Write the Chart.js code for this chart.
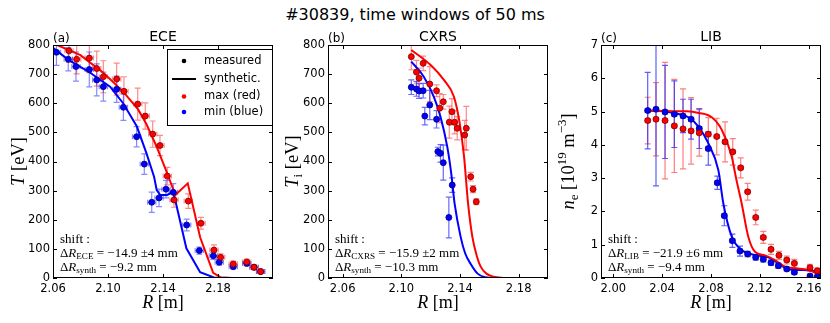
<!DOCTYPE html>
<html>
<head>
<meta charset="utf-8">
<script src="https://cdn.jsdelivr.net/npm/chart.js@4.4.0/dist/chart.umd.min.js"></script>
<style>
    body { margin: 0; background: #fff; }
    #wrap { position: relative; width: 830px; height: 323px; overflow: hidden; }
    #wrap canvas { position: absolute; top: 0; }
    #title { position: absolute; top: 5px; left: 0; width: 830px; text-align: center;
             font: 16px 'DejaVu Sans', sans-serif; color: #000; }
</style>
</head>
<body>
<div id="wrap">
    <div id="title">#30839, time windows of 50 ms</div>
    <canvas id="panelA" width="280" height="323" style="left:0px;width:280px;height:323px"></canvas>
    <canvas id="panelB" width="275" height="323" style="left:280px;width:275px;height:323px"></canvas>
    <canvas id="panelC" width="275" height="323" style="left:555px;width:275px;height:323px"></canvas>
</div>
<script>
// ---- tick labels ----
const eceTicksX = [2.06, 2.10, 2.14, 2.18];
const cxrsTicksX = [2.06, 2.10, 2.14, 2.18];
const libTicksX = [2.00, 2.04, 2.08, 2.12, 2.16];
const tempTicksY = [0, 100, 200, 300, 400, 500, 600, 700, 800];
const densTicksY = [0, 1, 2, 3, 4, 5, 6, 7];

// ---- ECE (a) ----
const eceRedR = [2.0716, 2.0772, 2.0864, 2.0918, 2.0966, 2.1063, 2.1116, 2.1216, 2.1271, 2.1325, 2.1378, 2.1431, 2.148, 2.1584, 2.1676, 2.1771, 2.1819, 2.1911, 2.2009, 2.2062, 2.2110];
const eceRedT = [780, 751, 755, 719, 691, 683, 641, 597, 556, 494, 455, 350, 268, 264, 188, 96, 71, 48, 55, 37, 22];
const eceRedErr = [40, 50, 50, 60, 55, 55, 50, 55, 45, 45, 35, 30, 25, 25, 20, 18, 12, 10, 10, 8, 6];
const eceBlueR = [2.0625, 2.0711, 2.0767, 2.0864, 2.0918, 2.0966, 2.1063, 2.1112, 2.1208, 2.1264, 2.1318, 2.1371, 2.1422, 2.1475, 2.1572, 2.1664, 2.1766, 2.1809, 2.1911, 2.2009, 2.2062, 2.2110];
const eceBlueT = [775, 751, 726, 716, 680, 657, 648, 586, 485, 391, 260, 275, 305, 294, 182, 94, 76, 54, 39, 50, 37, 22];
const eceBlueErr = [45, 40, 50, 60, 55, 50, 45, 45, 35, 35, 35, 30, 30, 30, 20, 12, 12, 10, 8, 8, 6, 6];
const eceSynRedR = [2.063, 2.08, 2.097, 2.111, 2.122, 2.128, 2.135, 2.143, 2.149, 2.158, 2.167, 2.1765, 2.182, 2.19, 2.22];
const eceSynRedT = [800, 765, 703, 640, 578, 528, 455, 360, 285, 325, 140, 18, 2, 0, 0];
const eceSynBlueR = [2.06, 2.071, 2.086, 2.1015, 2.111, 2.121, 2.128, 2.1335, 2.1354, 2.138, 2.143, 2.1475, 2.157, 2.167, 2.177, 2.19, 2.22];
const eceSynBlueT = [790, 750, 708, 657, 600, 520, 428, 348, 302, 285, 285, 296, 102, 20, 2, 0, 0];

// ---- CXRS (b) ----
const cxrsRedR = [2.1068, 2.1103, 2.1121, 2.1149, 2.1194, 2.124, 2.1262, 2.1286, 2.1327, 2.1345, 2.1363, 2.1381, 2.1432, 2.1443, 2.1473, 2.1489, 2.1511];
const cxrsRedT = [760, 707, 686, 737, 666, 643, 583, 605, 535, 571, 535, 514, 491, 514, 348, 305, 262];
const cxrsRedErr = [45, 40, 35, 25, 60, 20, 50, 25, 55, 45, 40, 40, 50, 75, 15, 12, 10];
const cxrsBlueR = [2.1068, 2.1103, 2.1121, 2.1149, 2.116, 2.1194, 2.124, 2.1249, 2.1267, 2.1286, 2.1324, 2.1347];
const cxrsBlueT = [655, 649, 642, 643, 556, 594, 545, 434, 428, 396, 208, 319];
const cxrsBlueErr = [25, 25, 25, 25, 30, 50, 30, 15, 30, 60, 70, 25];
const cxrsSynRedR = [2.1068, 2.12, 2.129, 2.1358, 2.1395, 2.1427, 2.1455, 2.1484, 2.1515, 2.1541, 2.158, 2.163, 2.17, 2.20];
const cxrsSynRedT = [783, 731, 680, 623, 540, 420, 256, 142, 75, 39, 15, 4, 0, 0];
const cxrsSynBlueR = [2.1068, 2.1153, 2.1221, 2.1267, 2.1313, 2.134, 2.1363, 2.1404, 2.1435, 2.1473, 2.152, 2.157, 2.165, 2.20];
const cxrsSynBlueT = [743, 691, 623, 554, 451, 360, 256, 142, 85, 48, 15, 3, 0, 0];

// ---- LIB (c) ----
const libRedR = [2.0282, 2.035, 2.0424, 2.05, 2.0571, 2.0637, 2.0704, 2.0778, 2.0847, 2.0915, 2.0978, 2.1043, 2.11, 2.1166, 2.1228, 2.1291, 2.1356, 2.142, 2.1482, 2.161, 2.167];
const libRedN = [4.73, 4.77, 4.73, 4.57, 4.48, 4.42, 4.36, 4.32, 4.25, 4.09, 3.79, 3.31, 2.59, 1.82, 1.22, 0.86, 0.68, 0.54, 0.44, 0.31, 0.22];
const libRedErr = [0.7, 1.1, 1.75, 1.4, 1.2, 1.0, 0.7, 0.5, 0.55, 0.6, 0.4, 0.3, 0.25, 0.22, 0.18, 0.15, 0.12, 0.12, 0.12, 0.1, 0.08];
const libBlueR = [2.0282, 2.035, 2.0424, 2.05, 2.0571, 2.0637, 2.0704, 2.0778, 2.0852, 2.0909, 2.0975, 2.1037, 2.11, 2.1166, 2.1228, 2.1291, 2.1351, 2.142, 2.1482, 2.161, 2.167];
const libBlueN = [5.03, 5.07, 4.99, 4.92, 4.87, 4.77, 4.49, 3.89, 2.86, 1.87, 1.12, 0.81, 0.72, 0.62, 0.56, 0.46, 0.37, 0.27, 0.17, 0.06, 0.04];
const libBlueErr = [1.15, 2.3, 1.4, 1.0, 0.5, 0.6, 0.6, 0.5, 0.2, 0.3, 0.2, 0.15, 0.08, 0.08, 0.08, 0.08, 0.08, 0.06, 0.06, 0.05, 0.05];
const libSynRedR = [2.028, 2.06, 2.07, 2.0806, 2.0888, 2.097, 2.1005, 2.1051, 2.1105, 2.116, 2.1242, 2.1324, 2.1406, 2.1488, 2.1597, 2.17];
const libSynRedN = [5.02, 5.01, 4.96, 4.83, 4.45, 3.64, 3.0, 2.24, 1.24, 0.79, 0.68, 0.54, 0.34, 0.29, 0.24, 0.09];
const libSynBlueR = [2.028, 2.04, 2.0506, 2.0615, 2.0697, 2.0778, 2.086, 2.0901, 2.097, 2.1051, 2.116, 2.1269, 2.1351, 2.1433, 2.1542, 2.1651, 2.17];
const libSynBlueN = [5.03, 5.02, 4.95, 4.83, 4.55, 4.05, 3.24, 2.24, 1.24, 0.84, 0.69, 0.62, 0.44, 0.26, 0.24, 0.2, 0.08];

const RED = '#ff0000';
const BLUE = '#0000ff';
const SANS = "'DejaVu Sans', sans-serif";
const SERIF = "'Liberation Serif', 'DejaVu Serif', serif";

function toPoints(xs, ys) {
    return xs.map((v, i) => ({ x: v, y: ys[i] }));
}

function measuredSet(xs, ys, errs, color, edge, errColor, errX) {
    return {
        data: toPoints(xs, ys),
        showLine: false,
        pointRadius: 3,
        pointBackgroundColor: color,
        pointBorderColor: edge,
        pointBorderWidth: 0.8,
        errY: errs,
        errX: errX,
        errColor: errColor,
        order: 0
    };
}

function syntheticSet(xs, ys, color, smooth) {
    return {
        data: toPoints(xs, ys),
        showLine: true,
        pointRadius: 0,
        borderColor: color,
        borderWidth: 2,
        cubicInterpolationMode: smooth ? 'monotone' : 'default',
        tension: 0,
        order: 1
    };
}

// rich text, a small stand-in for matplotlib mathtext
function mathText(ctx, parts, x, y, size, align) {
    const fontOf = p => {
        const small = p[1] === 'sub' || p[1] === 'sup';
        const it = p[1] === 'i';
        return (it ? 'italic ' : '') + (small ? size * 0.7 : size) + 'px ' + SERIF;
    };
    let w = 0;
    parts.forEach(p => { ctx.font = fontOf(p); w += ctx.measureText(p[0]).width; });
    let cx = align === 'center' ? x - w / 2 : x;
    ctx.textAlign = 'left';
    ctx.textBaseline = 'alphabetic';
    ctx.fillStyle = '#000';
    parts.forEach(p => {
        ctx.font = fontOf(p);
        const dy = p[1] === 'sub' ? size * 0.22 : (p[1] === 'sup' ? -size * 0.42 : 0);
        ctx.fillText(p[0], cx, y + dy);
        cx += ctx.measureText(p[0]).width;
    });
}

const errorBars = {
    id: 'errorBars',
    beforeDatasetsDraw(chart) {
        const { ctx, chartArea, scales: { x, y } } = chart;
        ctx.save();
        ctx.beginPath();
        ctx.rect(chartArea.left, chartArea.top, chartArea.width, chartArea.height);
        ctx.clip();
        chart.data.datasets.forEach(ds => {
            if (!ds.errY) return;
            ctx.strokeStyle = ds.errColor;
            ctx.lineWidth = 1.2;
            ds.data.forEach((p, i) => {
                const px = x.getPixelForValue(p.x);
                const py = y.getPixelForValue(p.y);
                const yTop = y.getPixelForValue(p.y + ds.errY[i]);
                const yBot = y.getPixelForValue(p.y - ds.errY[i]);
                const xL = x.getPixelForValue(p.x - ds.errX);
                const xR = x.getPixelForValue(p.x + ds.errX);
                ctx.beginPath();
                ctx.moveTo(px, yTop); ctx.lineTo(px, yBot);
                ctx.moveTo(px - 3, yTop); ctx.lineTo(px + 3, yTop);
                ctx.moveTo(px - 3, yBot); ctx.lineTo(px + 3, yBot);
                ctx.moveTo(xL, py); ctx.lineTo(xR, py);
                ctx.moveTo(xL, py - 2.5); ctx.lineTo(xL, py + 2.5);
                ctx.moveTo(xR, py - 2.5); ctx.lineTo(xR, py + 2.5);
                ctx.stroke();
            });
        });
        ctx.restore();
    }
};

// frame, inward ticks on all sides, titles and annotations
const decorations = {
    id: 'decorations',
    afterDraw(chart) {
        const { ctx, chartArea: a, scales: { x, y } } = chart;
        const o = chart.options.plugins.decorations;
        ctx.save();
        ctx.strokeStyle = '#000';
        ctx.lineWidth = 1;
        ctx.strokeRect(a.left + 0.5, a.top + 0.5, a.width - 1, a.height - 1);
        ctx.beginPath();
        x.ticks.forEach(t => {
            const px = Math.round(x.getPixelForValue(t.value)) + 0.5;
            ctx.moveTo(px, a.bottom); ctx.lineTo(px, a.bottom - 4);
            ctx.moveTo(px, a.top); ctx.lineTo(px, a.top + 4);
        });
        y.ticks.forEach(t => {
            const py = Math.round(y.getPixelForValue(t.value)) + 0.5;
            ctx.moveTo(a.left, py); ctx.lineTo(a.left + 4, py);
            ctx.moveTo(a.right, py); ctx.lineTo(a.right - 4, py);
        });
        ctx.stroke();

        // panel title and letter
        ctx.fillStyle = '#000';
        ctx.font = '14px ' + SANS;
        ctx.textAlign = 'center';
        ctx.textBaseline = 'alphabetic';
        ctx.fillText(o.title, (a.left + a.right) / 2, a.top - 4);
        ctx.font = '12px ' + SANS;
        ctx.textAlign = 'left';
        ctx.fillText(o.letter, a.left, a.top - 3);

        // axis titles
        mathText(ctx, [['R', 'i'], [' [m]', 'r']], (a.left + a.right) / 2, 308, 18, 'center');
        ctx.save();
        ctx.translate(o.yLabelX, (a.top + a.bottom) / 2);
        ctx.rotate(-Math.PI / 2);
        mathText(ctx, o.yLabel, 0, 0, 18.5, 'center');
        ctx.restore();

        // shift annotation
        const sx = a.left + 7;
        mathText(ctx, [['shift :', 'r']], sx, 243, 13);
        mathText(ctx, [['\u0394', 'r'], ['R', 'i'], [o.diag, 'sub'], [' = ' + o.shiftDiag, 'r']], sx, 256.5, 13);
        mathText(ctx, [['\u0394', 'r'], ['R', 'i'], ['synth', 'sub'], [' = ' + o.shiftSynth, 'r']], sx, 270.5, 13);

        if (o.legend) {
            const lx = 167, ly = 49, lw = 105, lh = 76;
            ctx.fillStyle = '#fff';
            ctx.fillRect(lx, ly, lw, lh);
            ctx.strokeStyle = '#000';
            ctx.lineWidth = 1;
            ctx.strokeRect(lx + 0.5, ly + 0.5, lw, lh);
            const rows = [61, 79, 96.5, 112];
            const labels = ['measured', 'synthetic.', 'max (red)', 'min (blue)'];
            const colors = ['#000', '#000', RED, BLUE];
            rows.forEach((ry, i) => {
                ctx.fillStyle = colors[i];
                ctx.strokeStyle = colors[i];
                if (i === 1) {
                    ctx.lineWidth = 2;
                    ctx.beginPath();
                    ctx.moveTo(172, ry); ctx.lineTo(196, ry);
                    ctx.stroke();
                } else {
                    ctx.beginPath();
                    ctx.arc(184, ry, 2.3, 0, Math.PI * 2);
                    ctx.fill();
                }
                ctx.fillStyle = '#000';
                ctx.font = '11.5px ' + SANS;
                ctx.textAlign = 'left';
                ctx.textBaseline = 'middle';
                ctx.fillText(labels[i], 204, ry);
            });
        }
        ctx.restore();
    }
};

function makePanel(id, cfg) {
    const ctx = document.getElementById(id).getContext('2d');
    return new Chart(ctx, {
        type: 'scatter',
        data: { datasets: cfg.datasets },
        options: {
            responsive: false,
            animation: false,
            events: [],
            layout: { padding: { left: 0, top: 45, right: cfg.padRight, bottom: 0 } },
            plugins: {
                legend: { display: false },
                tooltip: { enabled: false },
                decorations: cfg.deco
            },
            scales: {
                x: {
                    type: 'linear',
                    min: cfg.xMin,
                    max: cfg.xMax,
                    grid: { display: false, drawTicks: false },
                    border: { display: false },
                    afterFit: s => { s.height = 45; },
                    afterBuildTicks: s => { s.ticks = cfg.xTicks.map(v => ({ value: v })); },
                    ticks: {
                        autoSkip: false,
                        maxRotation: 0,
                        padding: 4,
                        color: '#000',
                        font: { family: SANS, size: 11.5 },
                        callback: v => v.toFixed(2)
                    }
                },
                y: {
                    type: 'linear',
                    min: cfg.yMin,
                    max: cfg.yMax,
                    grid: { display: false, drawTicks: false },
                    border: { display: false },
                    afterFit: s => { s.width = cfg.yWidth; },
                    afterBuildTicks: s => { s.ticks = cfg.yTicks.map(v => ({ value: v })); },
                    ticks: {
                        autoSkip: false,
                        padding: 3,
                        color: '#000',
                        font: { family: SANS, size: 11.5 },
                        callback: v => String(v)
                    }
                }
            }
        },
        plugins: [errorBars, decorations]
    });
}

makePanel('panelA', {
    xMin: 2.06, xMax: 2.22, yMin: 0, yMax: 800,
    xTicks: eceTicksX, yTicks: tempTicksY,
    yWidth: 53, padRight: 7,
    datasets: [
        measuredSet(eceRedR, eceRedT, eceRedErr, RED, '#7a0000', 'rgba(255,40,40,0.55)', 0.003),
        measuredSet(eceBlueR, eceBlueT, eceBlueErr, BLUE, '#00007a', 'rgba(40,40,255,0.55)', 0.003),
        syntheticSet(eceSynRedR, eceSynRedT, RED, false),
        syntheticSet(eceSynBlueR, eceSynBlueT, BLUE, false)
    ],
    deco: {
        title: 'ECE', letter: '(a)', legend: true, yLabelX: 24,
        yLabel: [['T', 'i'], [' [eV]', 'r']],
        diag: 'ECE', shiftDiag: '\u221214.9 \u00b14 mm', shiftSynth: '\u22129.2 mm'
    }
});

makePanel('panelB', {
    xMin: 2.05, xMax: 2.20, yMin: 0, yMax: 800,
    xTicks: cxrsTicksX, yTicks: tempTicksY,
    yWidth: 48, padRight: 7,
    datasets: [
        measuredSet(cxrsRedR, cxrsRedT, cxrsRedErr, RED, '#7a0000', 'rgba(255,40,40,0.55)', 0.001),
        measuredSet(cxrsBlueR, cxrsBlueT, cxrsBlueErr, BLUE, '#00007a', 'rgba(40,40,255,0.7)', 0.001),
        syntheticSet(cxrsSynRedR, cxrsSynRedT, RED, true),
        syntheticSet(cxrsSynBlueR, cxrsSynBlueT, BLUE, true)
    ],
    deco: {
        title: 'CXRS', letter: '(b)', legend: false, yLabelX: 18,
        yLabel: [['T', 'i'], ['i', 'sub'], [' [eV]', 'r']],
        diag: 'CXRS', shiftDiag: '\u221215.9 \u00b12 mm', shiftSynth: '\u221210.3 mm'
    }
});

makePanel('panelC', {
    xMin: 1.99, xMax: 2.17, yMin: 0, yMax: 7,
    xTicks: libTicksX, yTicks: densTicksY,
    yWidth: 46, padRight: 9,
    datasets: [
        measuredSet(libRedR, libRedN, libRedErr, RED, '#7a0000', 'rgba(255,40,40,0.6)', 0.002),
        measuredSet(libBlueR, libBlueN, libBlueErr, BLUE, '#00007a', 'rgba(40,40,255,0.75)', 0.002),
        syntheticSet(libSynRedR, libSynRedN, RED, true),
        syntheticSet(libSynBlueR, libSynBlueN, BLUE, true)
    ],
    deco: {
        title: 'LIB', letter: '(c)', legend: false, yLabelX: 19,
        yLabel: [['n', 'i'], ['e', 'sub'], [' [10', 'r'], ['19', 'sup'], [' m', 'r'], ['\u22123', 'sup'], [']', 'r']],
        diag: 'LIB', shiftDiag: '\u221221.9 \u00b16 mm', shiftSynth: '\u22129.4 mm'
    }
});
</script>
</body>
</html>
